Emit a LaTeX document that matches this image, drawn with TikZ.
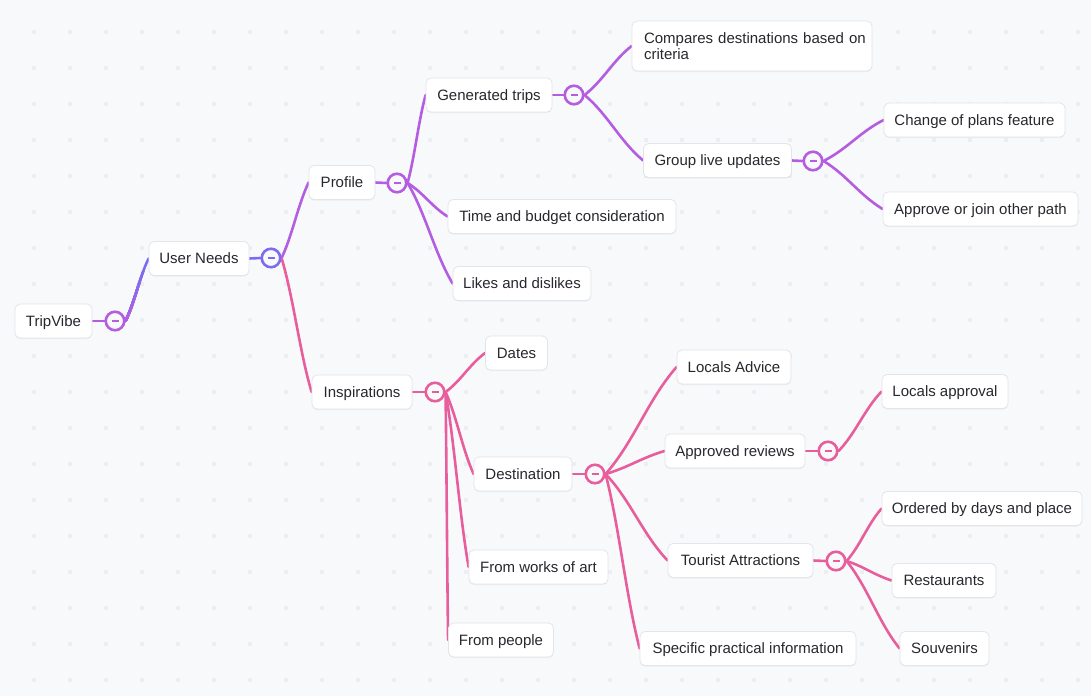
\documentclass[tikz,border=0pt]{standalone}
\usepackage{fontspec}
\setmainfont{Liberation Sans}
\usetikzlibrary{calc,shadows}
\pgfdeclarelayer{back}
\pgfdeclarelayer{edges}
\pgfsetlayers{back,edges,main}
\definecolor{bg}{HTML}{F8F9FB}
\definecolor{dotc}{HTML}{ECEEF1}
\definecolor{cpurple}{HTML}{B55DE1}
\definecolor{cpink}{HTML}{E85E9C}
\definecolor{cblue}{HTML}{7B6CF0}
\definecolor{boxline}{HTML}{E2E5EA}
\definecolor{txt}{HTML}{26282D}
\tikzset{
  boxbase/.style={draw=boxline, line width=0.8pt, fill=white, rounded corners=5pt,
    minimum height=34pt, inner sep=0pt, font=\fontsize{15}{16}\selectfont, text=txt,
    drop shadow={shadow xshift=0pt, shadow yshift=-1pt, opacity=0.05, fill=black}},
  box/.style={boxbase, text height=10pt, text depth=0pt},
  tog/.style={circle, draw=#1, line width=2.6pt, fill=bg, minimum size=18.5pt, inner sep=0pt},
  link/.style={line width=2.6pt, draw=#1, line cap=round},
}
\newcommand\curv[3]{\draw[link=#1] let \p1=(#2.east), \p2=(#3.west) in
  (\p1) .. controls ({\x1+0.4*(\x2-\x1)},{\y1+0.3*(\y2-\y1)}) and ({\x2-0.4*(\x2-\x1)},{\y2-0.3*(\y2-\y1)}) .. (\p2);}
\newcommand\mktog[3]{\node[tog=#3] (#1) at (#2) {};
  \draw[line width=2.4pt,#3] ([xshift=-3.5pt]#1.center) -- ([xshift=3.5pt]#1.center);}
\begin{document}
\begin{tikzpicture}[x=1pt,y=-1pt]
\begin{pgfonlayer}{back}
\fill[bg] (0,0) rectangle (1091,696);
\foreach \i in {0,...,29} \foreach \j in {0,...,18}
  \fill[dotc] ({34+36*\i-1.75},{32+36*\j-1.75}) rectangle ++(3.5,3.5);
\end{pgfonlayer}
\useasboundingbox (0,0) rectangle (1091,696);

% boxes
\node[box, minimum width=77pt] (trip) at (53.5,321) {TripVibe};
\node[box, minimum width=100pt] (user) at (199,258.5) {User Needs};
\node[box, minimum width=66pt] (prof) at (342,182.5) {Profile};
\node[box, minimum width=100pt] (insp) at (362,392) {Inspirations};
\node[box, minimum width=126pt] (gen) at (489,95) {Generated trips};
\node[box, minimum width=228pt] (time) at (562,216.5) {Time and budget consideration};
\node[box, minimum width=138pt] (likes) at (522,283.5) {Likes and dislikes};
\node[boxbase, text width=216pt, inner xsep=12pt, align=left, minimum height=50pt] (comp) at (752,46) {\mbox{Compares destinations based on}\\criteria};
\node[box, minimum width=148pt] (group) at (717.5,160.5) {Group live updates};
\node[box, minimum width=181pt] (change) at (974.5,120) {Change of plans feature};
\node[box, minimum width=195pt] (appr) at (980.5,209) {Approve or join other path};
\node[box, minimum width=62pt] (dates) at (516.5,353) {Dates};
\node[box, minimum width=98pt] (dest) at (523,474) {Destination};
\node[box, minimum width=139pt] (art) at (538.5,567) {From works of art};
\node[box, minimum width=105pt] (people) at (501,640) {From people};
\node[box, minimum width=114pt] (ladv) at (734,367) {Locals Advice};
\node[box, minimum width=140pt] (arev) at (735,451) {Approved reviews};
\node[box, minimum width=145pt] (tour) at (740.5,560.5) {Tourist Attractions};
\node[box, minimum width=216pt] (spec) at (748,648.5) {Specific practical information};
\node[box, minimum width=126pt] (lapp) at (945,391.5) {Locals approval};
\node[box, minimum width=200pt] (ord) at (982,508.5) {Ordered by days and place};
\node[box, minimum width=104pt] (rest) at (944,580.5) {Restaurants};
\node[box, minimum width=89pt] (souv) at (944.5,648.5) {Souvenirs};

% toggles
\mktog{ctrip}{115,321}{cpurple}
\mktog{cuser}{271,258}{cblue}
\mktog{cprof}{397,183}{cpurple}
\mktog{cinsp}{435,392}{cpink}
\mktog{cgen}{574,95}{cpurple}
\mktog{cgroup}{813,161}{cpurple}
\mktog{cdest}{595,474}{cpink}
\mktog{carev}{828,451}{cpink}
\mktog{ctour}{836,561}{cpink}

\begin{pgfonlayer}{edges}
\draw[link=cpurple] (trip.east) -- (ctrip.west);
\curv{cblue}{ctrip}{user}
\foreach \k in {8,7,...,0} {
  \pgfmathtruncatemacro\m{100-\k*12}
  \begin{scope}
    \clip (100,345) rectangle (170,{318-6*\k});
    \curv{cpurple!\m!cblue}{ctrip}{user}
  \end{scope}
}
\draw[link=cblue] (user.east) -- (cuser.west);
\curv{cpurple}{cuser}{prof}
\curv{cpink}{cuser}{insp}

\draw[link=cpurple] (prof.east) -- (cprof.west);
\curv{cpurple}{cprof}{gen}
\curv{cpurple}{cprof}{time}
\curv{cpurple}{cprof}{likes}
\draw[link=cpurple] (gen.east) -- (cgen.west);
\curv{cpurple}{cgen}{comp}
\curv{cpurple}{cgen}{group}
\draw[link=cpurple] (group.east) -- (cgroup.west);
\curv{cpurple}{cgroup}{change}
\curv{cpurple}{cgroup}{appr}

\draw[link=cpink] (insp.east) -- (cinsp.west);
\curv{cpink}{cinsp}{dates}
\curv{cpink}{cinsp}{dest}
\curv{cpink}{cinsp}{art}
\curv{cpink}{cinsp}{people}
\draw[link=cpink] (dest.east) -- (cdest.west);
\curv{cpink}{cdest}{ladv}
\curv{cpink}{cdest}{arev}
\curv{cpink}{cdest}{tour}
\curv{cpink}{cdest}{spec}
\draw[link=cpink] (arev.east) -- (carev.west);
\curv{cpink}{carev}{lapp}
\draw[link=cpink] (tour.east) -- (ctour.west);
\curv{cpink}{ctour}{ord}
\curv{cpink}{ctour}{rest}
\curv{cpink}{ctour}{souv}
\end{pgfonlayer}
\end{tikzpicture}
\end{document}
